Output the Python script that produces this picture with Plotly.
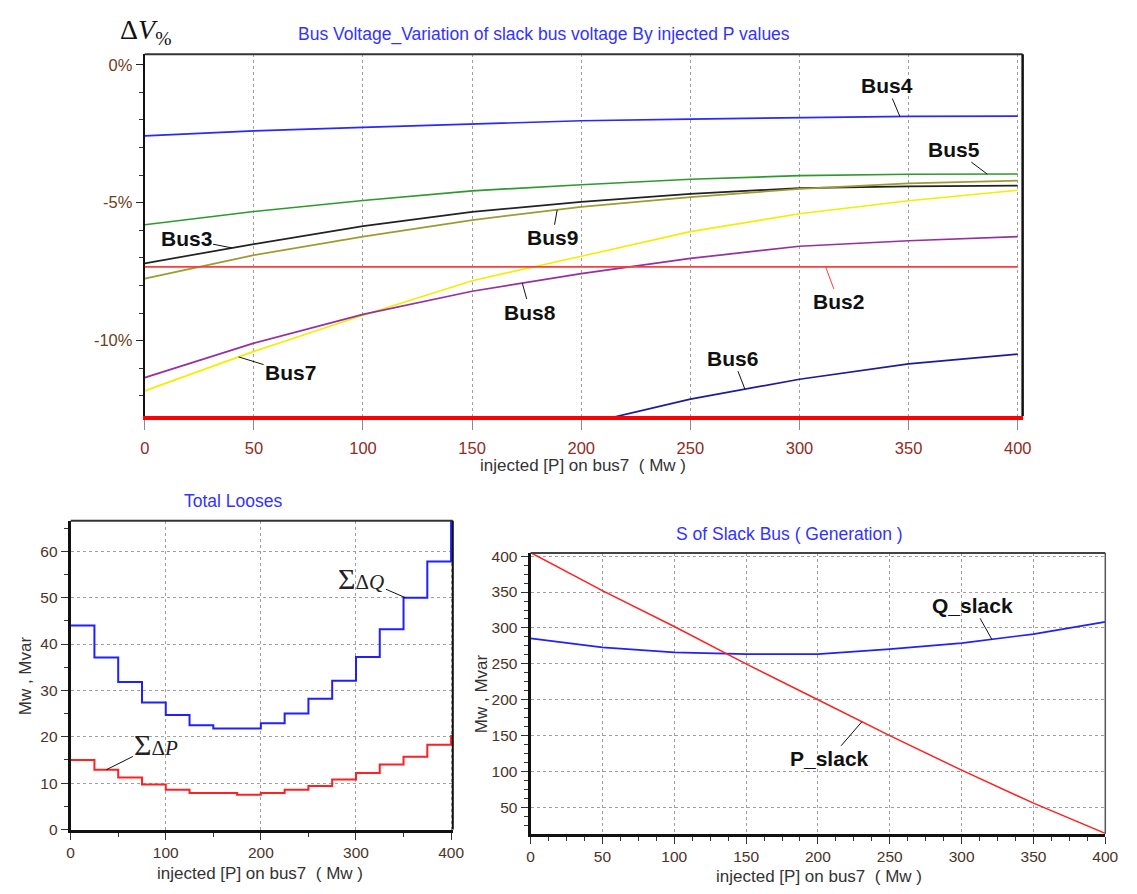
import numpy as np
import plotly.graph_objects as go

W, H = 1137, 894

# ---------------- data ----------------
p_inj = [0, 50, 100, 150, 200, 250, 300, 350, 400]
bus4 = [-2.58, -2.40, -2.27, -2.15, -2.03, -1.97, -1.92, -1.87, -1.86]
bus5 = [-5.80, -5.32, -4.92, -4.57, -4.35, -4.15, -4.02, -3.97, -3.96]
bus3 = [-7.20, -6.50, -5.85, -5.33, -4.97, -4.68, -4.47, -4.41, -4.38]
bus9 = [-7.75, -6.90, -6.23, -5.63, -5.15, -4.80, -4.50, -4.30, -4.20]
bus2 = [-7.33, -7.33, -7.33, -7.33, -7.33, -7.33, -7.33, -7.33, -7.33]
bus7 = [-11.82, -10.39, -9.08, -7.83, -6.94, -6.05, -5.40, -4.93, -4.55]
bus8 = [-11.34, -10.09, -9.05, -8.21, -7.57, -7.02, -6.58, -6.38, -6.23]
p_bus6 = [200, 250, 300, 350, 400]
bus6 = [-13.05, -12.12, -11.40, -10.84, -10.49]

v_tickvals = [0, -5, -10]
v_ticktext = ["0%", "-5%", "-10%"]

p_loss_x = [0, 25, 50, 75, 100, 125, 150, 175, 200, 225, 250, 275, 300, 325, 350, 375, 400]
loss_q = [44.0, 37.1, 31.8, 27.4, 24.7, 22.5, 21.8, 21.8, 22.9, 25.0, 28.2, 32.1, 37.2, 43.2, 50.0, 57.8, 67.0]
loss_p = [15.0, 12.9, 11.2, 9.7, 8.6, 7.9, 7.9, 7.5, 7.9, 8.6, 9.4, 10.8, 12.2, 14.0, 15.7, 18.3, 20.4]

q_slack = [285.5, 273.0, 266.0, 263.5, 263.5, 270.5, 279.0, 291.5, 308.5]
p_slack = [405, 352, 302, 250, 200, 150, 102, 56, 14]

x_title = "injected [P] on bus7  ( Mw )"
y_title = "Mw , Mvar"

# ---------------- helpers ----------------
def dom_x(a, b):
    return [a / W, b / W]

def dom_y(top, bottom):
    return [1 - bottom / H, 1 - top / H]

LBL_FONT = dict(family="Liberation Sans Narrow, Arial Narrow, Liberation Sans, Arial", size=21, color="#111")
TITLE_FONT = dict(family="Liberation Sans, Arial", size=17.5, color="#3333ff")
AXT_FONT = dict(family="Liberation Sans, Arial", size=17, color="#333333")
GRID = "#a0a0a0"

fig = go.Figure()

# ---------------- top chart ----------------
series = [
    ("Bus4", bus4, "#2828ff"),
    ("Bus5", bus5, "#2e9a2e"),
    ("Bus3", bus3, "#222222"),
    ("Bus9", bus9, "#9c9c30"),
    ("Bus7", bus7, "#f2ee00"),
    ("Bus8", bus8, "#9630a0"),
    ("Bus2", bus2, "#ff3b3b"),
]
for name, vals, col in series:
    fig.add_trace(go.Scatter(x=p_inj, y=vals, mode="lines", name=name,
                             line=dict(color=col, width=1.7), xaxis="x", yaxis="y"))
fig.add_trace(go.Scatter(x=p_bus6, y=bus6, mode="lines", name="Bus6",
                         line=dict(color="#1c1c98", width=1.7), xaxis="x", yaxis="y"))

# ---------------- bottom-left chart ----------------
fig.add_trace(go.Scatter(x=p_loss_x, y=loss_q, mode="lines", line_shape="hv",
                         line=dict(color="#2020ff", width=2), xaxis="x2", yaxis="y2"))
fig.add_trace(go.Scatter(x=p_loss_x, y=loss_p, mode="lines", line_shape="hv",
                         line=dict(color="#ff2020", width=2), xaxis="x2", yaxis="y2"))

# ---------------- bottom-right chart ----------------
fig.add_trace(go.Scatter(x=p_inj, y=q_slack, mode="lines",
                         line=dict(color="#2020ff", width=1.7), xaxis="x3", yaxis="y3"))
fig.add_trace(go.Scatter(x=p_inj, y=p_slack, mode="lines",
                         line=dict(color="#ff2020", width=1.5), xaxis="x3", yaxis="y3"))

common_axis = dict(zeroline=False, showline=True, ticks="outside", layer="above traces")

fig.update_layout(
    width=W, height=H, margin=dict(l=0, r=0, t=0, b=0),
    paper_bgcolor="white", plot_bgcolor="white", showlegend=False,
    xaxis=dict(**common_axis, domain=dom_x(142, 1034), range=[0, 402.25],
               tickvals=p_inj, showgrid=True, gridcolor=GRID, griddash="dot", gridwidth=1,
               linecolor="#ff0000", linewidth=4, ticklen=10, tickcolor="#8a8a8a",
               ticklabelstandoff=4,
               tickfont=dict(family="Liberation Sans, Arial", size=16.5, color="#8e2c1e"),
               anchor="y"),
    yaxis=dict(**common_axis, domain=dom_y(50, 417), range=[-12.73, 0.38],
               tickvals=v_tickvals, ticktext=v_ticktext, showgrid=False,
               linecolor="#111", linewidth=2, ticklen=7, tickcolor="#222",
               minor=dict(dtick=1, tick0=0, ticklen=4, tickcolor="#333", ticks="outside"),
               tickfont=dict(family="Liberation Sans, Arial", size=16.5, color="#6e4020"),
               anchor="x"),
    xaxis2=dict(**common_axis, domain=dom_x(66.7, 455), range=[0, 401.8],
                tickvals=[0, 100, 200, 300, 400], showgrid=True, gridcolor=GRID, griddash="dot",
                linecolor="#111", linewidth=3, ticklen=7, tickcolor="#333",
                minor=dict(dtick=50, tick0=0, ticklen=4, tickcolor="#333", ticks="outside"),
                tickfont=dict(family="Liberation Sans, Arial", size=15.5, color="#4a3428"),
                anchor="y2"),
    yaxis2=dict(**common_axis, domain=dom_y(523.3, 836.7), range=[0, 66.6],
                dtick=10, tick0=0, showgrid=True, gridcolor=GRID, griddash="dot",
                linecolor="#111", linewidth=3, ticklen=7, tickcolor="#333",
                minor=dict(dtick=5, tick0=0, ticklen=4, tickcolor="#333", ticks="outside"),
                tickfont=dict(family="Liberation Sans, Arial", size=15.5, color="#4a3428"),
                anchor="x2"),
    xaxis3=dict(**common_axis, domain=dom_x(534, 1118), range=[0, 400],
                tickvals=p_inj, showgrid=True, gridcolor=GRID, griddash="dot",
                linecolor="#111", linewidth=3, ticklen=7, tickcolor="#333",
                minor=dict(dtick=12.5, tick0=0, ticklen=4, tickcolor="#333", ticks="outside"),
                tickfont=dict(family="Liberation Sans, Arial", size=15.5, color="#4a3428"),
                anchor="y3"),
    yaxis3=dict(**common_axis, domain=dom_y(556, 841), range=[13.4, 404.5],
                dtick=50, tick0=0, showgrid=True, gridcolor=GRID, griddash="dot",
                linecolor="#111", linewidth=3, ticklen=7, tickcolor="#333",
                minor=dict(dtick=12.5, tick0=0, ticklen=4, tickcolor="#333", ticks="outside"),
                tickfont=dict(family="Liberation Sans, Arial", size=15.5, color="#4a3428"),
                anchor="x3"),
)

# frame borders (top / right)
shapes = []
for xa, ya, topc, rightc, rw in [("x", "y", "#333333", "#111111", 2.5),
                                 ("x2", "y2", "#333333", "#111111", 2),
                                 ("x3", "y3", "#444444", "#555555", 1.5)]:
    shapes.append(dict(type="line", xref=f"{xa} domain", yref=f"{ya} domain",
                       x0=0, x1=1, y0=1, y1=1, line=dict(color=topc, width=2)))
    shapes.append(dict(type="line", xref=f"{xa} domain", yref=f"{ya} domain",
                       x0=1, x1=1, y0=0, y1=1, line=dict(color=rightc, width=rw)))
fig.update_layout(shapes=shapes)

ann = []

def paper_text(px, py, text, font, **kw):
    ann.append(dict(x=px / W, y=1 - py / H, xref="paper", yref="paper", text=text,
                    showarrow=False, font=font, xanchor="center", yanchor="middle", **kw))

# titles
paper_text(548, 30, "Bus Voltage_Variation of slack bus voltage By injected P values", TITLE_FONT)
paper_text(232, 503, "Total Looses", TITLE_FONT)
paper_text(797, 537, "S of Slack Bus ( Generation )", TITLE_FONT)
paper_text(143, 27, "Δ<i>V</i><sub>%</sub>", dict(family="Liberation Serif, Times New Roman", size=28, color="#111"))

# axis titles
paper_text(587, 467, x_title, AXT_FONT)
paper_text(259, 881, x_title, AXT_FONT)
paper_text(827, 884, x_title, AXT_FONT)
paper_text(20.5, 681, y_title, AXT_FONT, textangle=-90)
paper_text(485, 699, y_title, AXT_FONT, textangle=-90)

# curve labels with leader lines
def label(xa, ya, xd, xs, ys, text, ax, ay, color="#111", font=LBL_FONT, step=False):
    if step:
        idx = int(np.searchsorted(xs, xd, side="right") - 1)
        yd = ys[idx]
    else:
        yd = float(np.interp(xd, xs, ys))
    ann.append(dict(x=xd, y=yd, xref=xa, yref=ya, text=text, showarrow=True,
                    arrowhead=0, arrowwidth=1, arrowcolor=color, ax=ax, ay=ay,
                    standoff=0, font=font))

label("x", "y", 346, p_inj, bus4, "<b>Bus4</b>", -13, -31)
label("x", "y", 386, p_inj, bus5, "<b>Bus5</b>", -33, -25)
label("x", "y", 40, p_inj, bus3, "<b>Bus3</b>", -46, -9)
label("x", "y", 189, p_inj, bus9, "<b>Bus9</b>", -5, 28)
label("x", "y", 173, p_inj, bus8, "<b>Bus8</b>", 8, 29)
label("x", "y", 43, p_inj, bus7, "<b>Bus7</b>", 52, 16)
label("x", "y", 312, p_inj, bus2, "<b>Bus2</b>", 13, 35, color="#ff3b3b")
label("x", "y", 275, p_bus6, bus6, "<b>Bus6</b>", -12, -31)

SIG_FONT = dict(family="Liberation Serif, DejaVu Serif", size=21, color="#222")
label("x2", "y2", 352, p_loss_x, loss_q,
      '<span style="font-size:30px">Σ</span>Δ<i>Q</i>',
      -44, -19, font=SIG_FONT, step=True)
label("x2", "y2", 37.6, p_loss_x, loss_p,
      '<span style="font-size:30px">Σ</span>Δ<i>P</i>',
      50, -25, font=SIG_FONT, step=True)

label("x3", "y3", 321, p_inj, q_slack, "<b>Q_slack</b>", -19, -34)
label("x3", "y3", 230.6, p_inj, p_slack, "<b>P_slack</b>", -32, 37)

fig.update_layout(annotations=ann)

fig.write_html("out.html", config={"displayModeBar": False},
               post_script="document.body.style.margin='0';document.body.style.overflow='hidden';")
